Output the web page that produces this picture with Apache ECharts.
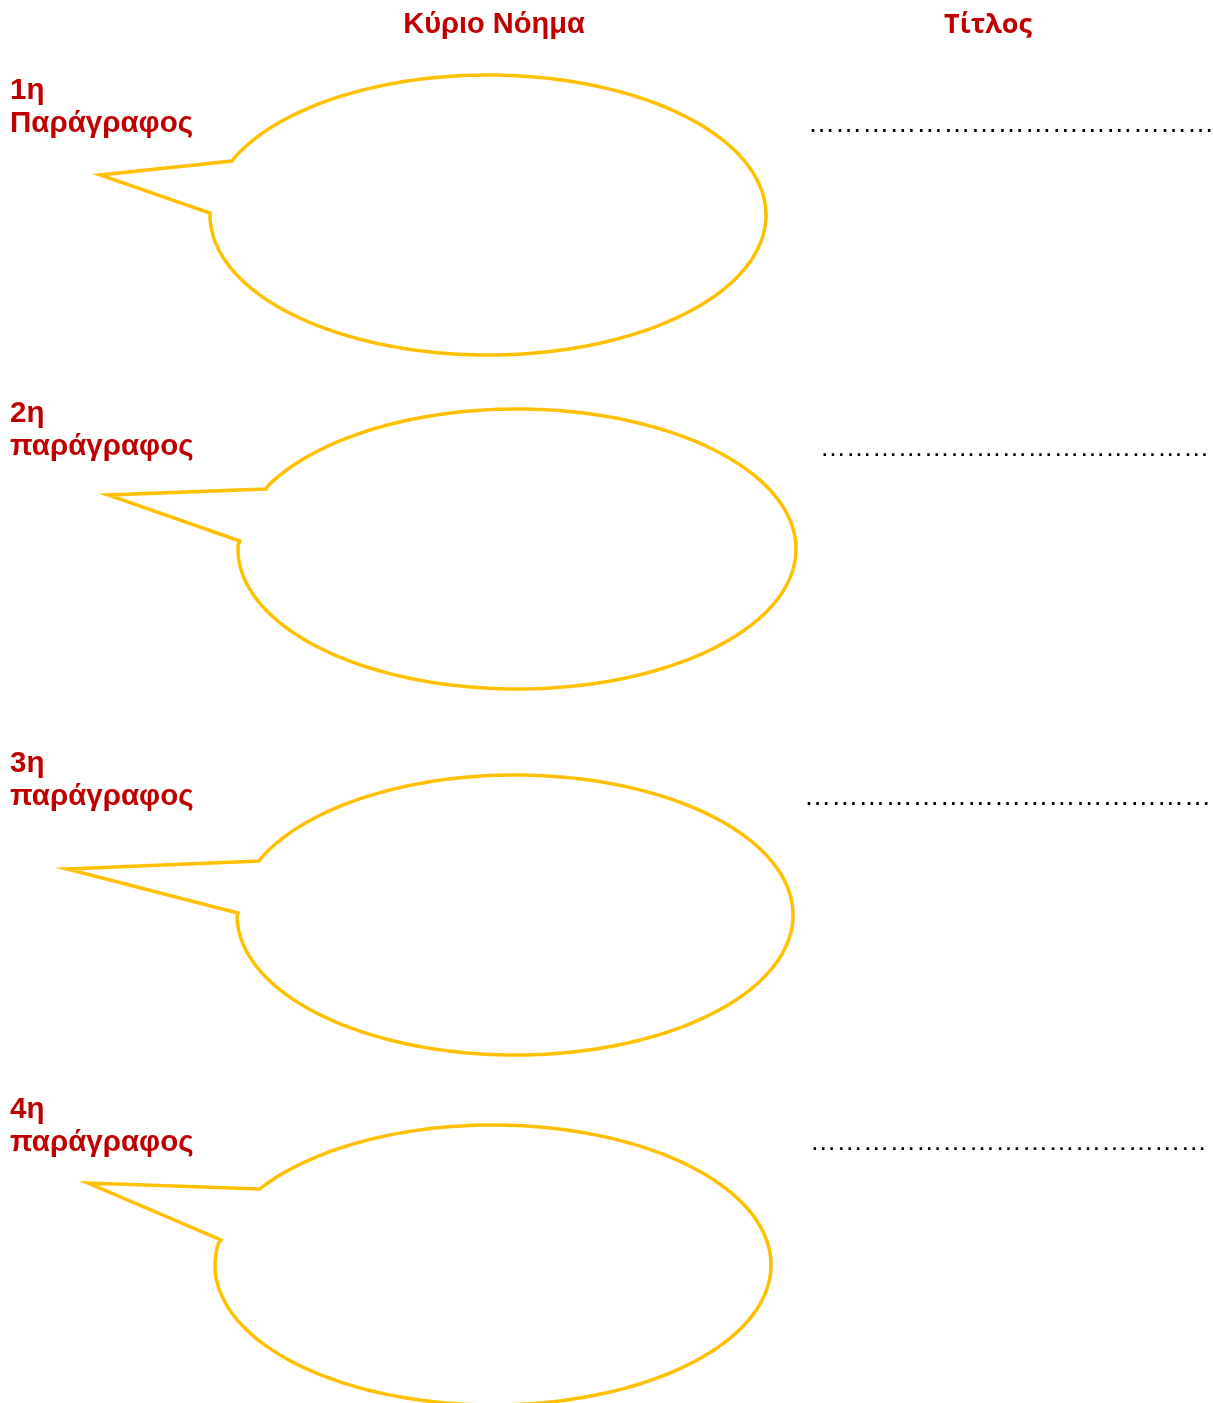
<!DOCTYPE html>
<html><head><meta charset="utf-8">
<script src="https://cdn.jsdelivr.net/npm/echarts@6/dist/echarts.min.js"></script>
<style>html,body{margin:0;padding:0;background:#fff}#c{width:1213px;height:1403px}</style>
</head><body><div id="c"></div>
<script>
// ---- content ----
const headerTexts = ['Κύριο Νόημα', 'Τίτλος'];
const headerX = [494, 988];
const headerY = [25, 25];

const paragraphNumbers = ['1η', '2η', '3η', '4η'];
const paragraphWords = ['Παράγραφος', 'παράγραφος', 'παράγραφος', 'παράγραφος'];
const paragraphLabelY = [91, 414, 764, 1110];

// speech bubbles: ellipse centre / radii, tail joins and tail tip
const bubbleCx = [488, 517, 515, 493];
const bubbleCy = [215, 549, 915, 1265];
const bubbleRx = [278, 279, 278, 278];
const bubbleRy = [140, 140, 140, 140];
const tailUpper = [[232, 161], [266, 489], [259, 861], [260, 1189]];
const tailTip = [[100, 175], [108, 495], [67, 869], [88, 1183]];
const tailLower = [[210, 213], [240, 541], [238, 913], [221, 1240]];

// title blanks (dotted leaders)
const blankStartX = [808, 820, 804, 810];
const blankEndX = [1209, 1204, 1206, 1202];
const blankY = [125, 449, 798, 1143];
const blankChars = [15, 15, 15, 15];

// ---- chart ----
const RED = '#C00000';
const GOLD = '#FFC000';
const chart = echarts.init(document.getElementById('c'), null, {renderer: 'canvas'});

const bubbleData = bubbleCx.map((cx, i) => [cx, bubbleCy[i], bubbleRx[i], bubbleRy[i],
  tailUpper[i][0], tailUpper[i][1], tailTip[i][0], tailTip[i][1], tailLower[i][0], tailLower[i][1]]);

function bubbleItem(params, api) {
  const cx = api.value(0), cy = api.value(1), rx = api.value(2), ry = api.value(3);
  const ax = api.value(4), ay = api.value(5), tx = api.value(6), ty = api.value(7);
  const bx = api.value(8), by = api.value(9);
  let tA = Math.atan2((ay - cy) / ry, (ax - cx) / rx);
  let tB = Math.atan2((by - cy) / ry, (bx - cx) / rx);
  while (tB <= tA) tB += Math.PI * 2;
  const pts = [api.coord([ax, ay])];
  const n = 240;
  for (let k = 1; k < n; k++) {
    const t = tA + (tB - tA) * k / n;
    pts.push(api.coord([cx + rx * Math.cos(t), cy + ry * Math.sin(t)]));
  }
  pts.push(api.coord([bx, by]));
  pts.push(api.coord([tx, ty]));
  return {
    type: 'polygon',
    shape: {points: pts},
    style: {fill: 'none', stroke: GOLD, lineWidth: 3.5, lineJoin: 'miter'}
  };
}

const textData = [];
headerTexts.forEach((t, i) => textData.push({value: [headerX[i], headerY[i]], text: t, kind: i === 0 ? 'h1' : 'h2'}));
paragraphNumbers.forEach((t, i) => {
  textData.push({value: [10, paragraphLabelY[i]], text: t, kind: 'lab'});
  textData.push({value: [10, paragraphLabelY[i] + 33], text: paragraphWords[i], kind: 'lab'});
});
blankStartX.forEach((x, i) => textData.push({value: [x, blankY[i]], text: '\u2026'.repeat(blankChars[i]), kind: 'dots', row: i}));

function textItem(params, api) {
  const d = textData[params.dataIndex];
  const p = api.coord([api.value(0), api.value(1)]);
  let font, align = 'left', fill = RED;
  if (d.kind === 'h1') { font = 'bold 29px "Liberation Sans", Arial, sans-serif'; align = 'center'; }
  else if (d.kind === 'h2') { font = 'bold 27px "Open Sans", sans-serif'; align = 'center'; }
  else if (d.kind === 'lab') { font = 'bold 29.5px "Liberation Sans", Arial, sans-serif'; }
  else {
    const span = api.coord([blankEndX[d.row], 0])[0] - p[0];
    const fs = span / (0.987 * blankChars[d.row]);
    font = fs.toFixed(2) + 'px "Liberation Sans", Arial, sans-serif'; fill = '#000';
  }
  return {
    type: 'text', x: p[0], y: p[1],
    style: {text: d.text, font: font, fill: fill, align: align, verticalAlign: 'middle'}
  };
}

chart.setOption({
  animation: false,
  backgroundColor: '#fff',
  grid: {left: 0, right: 0, top: 0, bottom: 0},
  xAxis: {type: 'value', min: 0, max: 1213, show: false},
  yAxis: {type: 'value', min: 0, max: 1403, inverse: true, show: false},
  series: [
    {type: 'custom', renderItem: bubbleItem, data: bubbleData, silent: true},
    {type: 'custom', renderItem: textItem, data: textData.map(d => d.value), silent: true}
  ]
});
</script></body></html>
